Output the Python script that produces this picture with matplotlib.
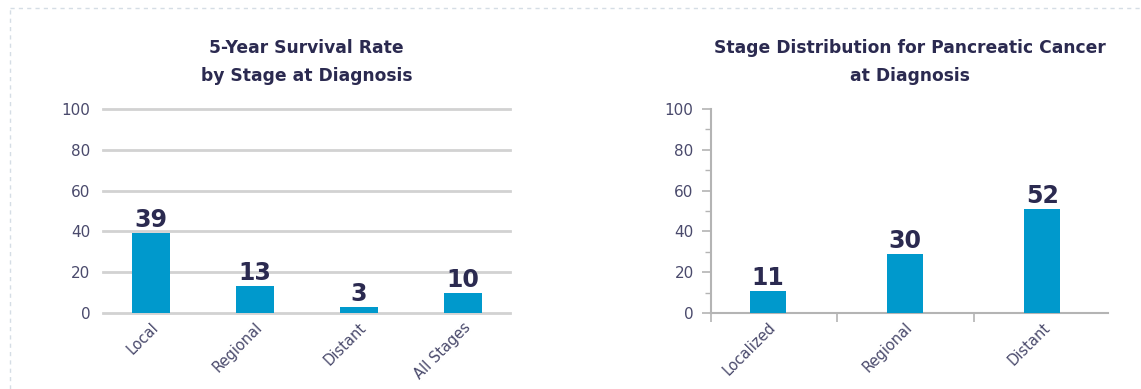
import matplotlib
matplotlib.use("Agg")
import matplotlib.pyplot as plt
from matplotlib.lines import Line2D
from matplotlib.ticker import MultipleLocator, FixedLocator, FixedFormatter

# ---- data ----
survival_stages = ["Local", "Regional", "Distant", "All Stages"]
survival_rates = [39, 13, 3, 10]
survival_labels = ["39", "13", "3", "10"]

dist_stages = ["Localized", "Regional", "Distant"]
dist_values = [11, 29, 51]
dist_labels = ["11", "30", "52"]

y_ticks = [0, 20, 40, 60, 80, 100]

title_left = "5-Year Survival Rate\nby Stage at Diagnosis"
title_right = "Stage Distribution for Pancreatic Cancer\nat Diagnosis"

# ---- style ----
BAR = "#0099CC"
NAVY = "#2B2A50"
TICKC = "#4A4A6C"
GRID = "#D2D2D2"
AXC = "#B4B4B4"
plt.rcParams['font.family'] = ['DejaVu Sans']

W, H = 1141, 389
fig = plt.figure(figsize=(W / 100, H / 100), dpi=100)
fig.patch.set_facecolor("white")

# faint dashed page border
fig.add_artist(Line2D([10 / W, 1], [1 - 8 / H, 1 - 8 / H], color="#D5DDE5",
                      lw=1, ls=(0, (3, 3)), transform=fig.transFigure))
fig.add_artist(Line2D([10 / W, 10 / W], [0, 1 - 8 / H], color="#D5DDE5",
                      lw=1, ls=(0, (3, 3)), transform=fig.transFigure))

y0, y100 = 313, 109
bottom = 1 - y0 / H
height = (y0 - y100) / H

TITLE_FS = 12.3
VAL_FS = 17
YT_FS = 11
XT_FS = 10.5

# ---- left chart ----
axL = fig.add_axes([103 / W, bottom, (510 - 103) / W, height])
xl = range(len(survival_stages))
axL.bar(xl, survival_rates, width=0.36, color=BAR, zorder=3)
axL.set_xlim(-0.46, 3.45)
axL.set_ylim(0, 100)
axL.set_yticks(y_ticks)
for s in axL.spines.values():
    s.set_visible(False)
axL.grid(axis="y", color=GRID, lw=2, zorder=0)
for gl in axL.get_ygridlines():
    gl.set_clip_on(False)
axL.set_axisbelow(True)
axL.tick_params(axis="y", length=0, pad=9, labelsize=YT_FS, labelcolor=TICKC)
axL.tick_params(axis="x", length=0, pad=5, labelsize=XT_FS, labelcolor=TICKC)
axL.set_xticks(list(xl))
axL.set_xticklabels(survival_stages, rotation=45, ha="right", rotation_mode="anchor")
for xi, v, lab in zip(xl, survival_rates, survival_labels):
    axL.text(xi, v + 0.5, lab, ha="center", va="bottom", fontsize=VAL_FS,
             fontweight="bold", color=NAVY, clip_on=False)
axL.set_title(title_left, fontsize=TITLE_FS, fontweight="bold", color=NAVY,
              pad=20, linespacing=1.75)

# ---- right chart ----
axR = fig.add_axes([711 / W, bottom, (1108 - 711) / W, height])
xr = range(len(dist_stages))
axR.bar(xr, dist_values, width=0.26, color=BAR, zorder=3)
axR.set_xlim(-0.416, 2.48)
axR.set_ylim(0, 100)
axR.set_yticks(y_ticks)
axR.yaxis.set_minor_locator(MultipleLocator(10))
for side in ("top", "right"):
    axR.spines[side].set_visible(False)
for side in ("left", "bottom"):
    axR.spines[side].set_color(AXC)
    axR.spines[side].set_linewidth(1.5)
axR.tick_params(axis="y", which="major", length=6.5, width=1.2, color=AXC,
                pad=6, labelsize=YT_FS, labelcolor=TICKC)
axR.tick_params(axis="y", which="minor", length=4.5, width=1.0, color=AXC)
# category boundary ticks on x axis
axR.set_xticks([-0.416, 0.5, 1.5])
axR.set_xticklabels(["", "", ""])
axR.tick_params(axis="x", which="major", length=6.5, width=1.2, color=AXC)
axR.xaxis.set_minor_locator(FixedLocator(list(xr)))
axR.xaxis.set_minor_formatter(FixedFormatter(dist_stages))
axR.tick_params(axis="x", which="minor", length=0, pad=5, labelsize=XT_FS,
                labelcolor=TICKC)
for lab in axR.get_xticklabels(minor=True):
    lab.set_rotation(45)
    lab.set_ha("right")
    lab.set_rotation_mode("anchor")
for xi, v, lab in zip(xr, dist_values, dist_labels):
    axR.text(xi, v + 0.5, lab, ha="center", va="bottom", fontsize=VAL_FS,
             fontweight="bold", color=NAVY, clip_on=False)
axR.set_title(title_right, fontsize=TITLE_FS, fontweight="bold", color=NAVY,
              pad=20, linespacing=1.75)

fig.savefig("out.png", dpi=100, facecolor="white")
